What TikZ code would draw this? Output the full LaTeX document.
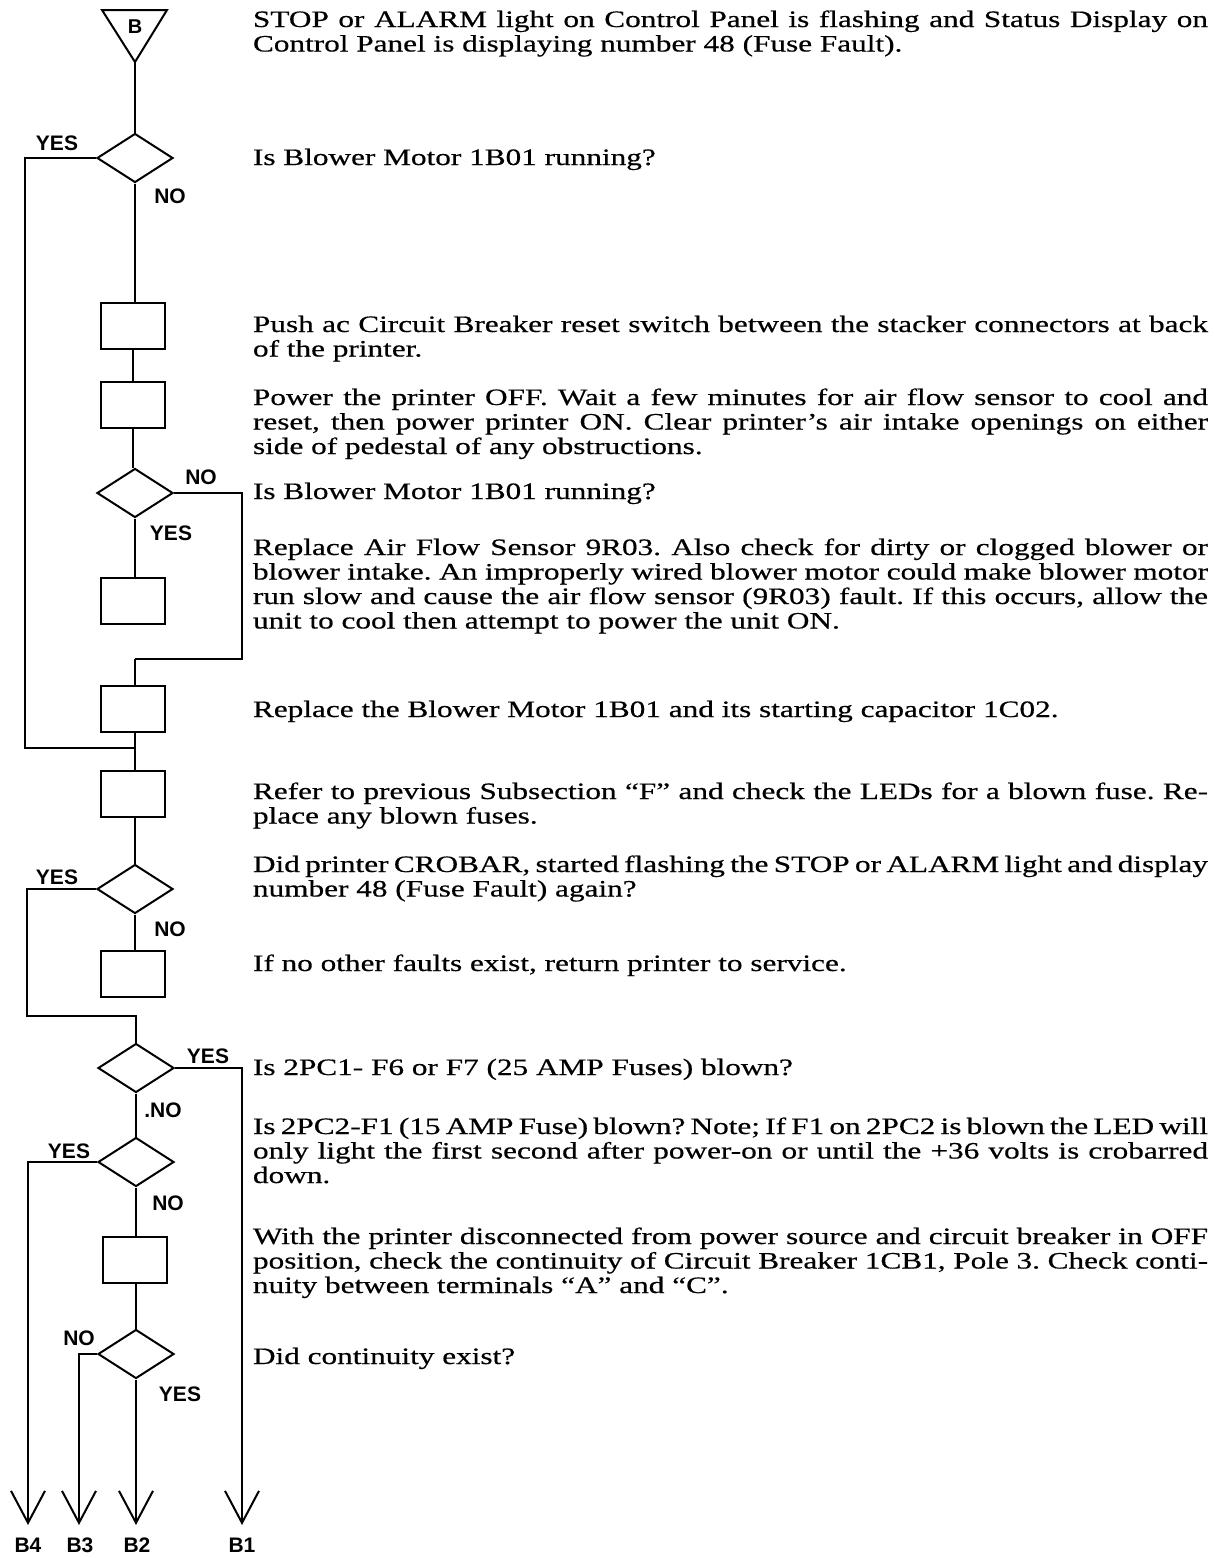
\documentclass[tikz,border=0pt]{standalone}
\usepackage{fontspec}
\setmainfont{Liberation Serif}[FakeStretch=1.33,FakeBold=0.5]
\newfontfamily\labfont{Liberation Sans}
\usetikzlibrary{arrows.meta,shapes.geometric}
\frenchspacing
\newcommand{\fullline}[1]{\makebox[955pt][s]{#1}\\}
\newcommand{\bodyfont}{\fontsize{23.5}{24.5}\selectfont\frenchspacing}
\begin{document}
\begin{tikzpicture}[x=1pt,y=-1pt,line width=2pt,
  boxstep/.style={draw,rectangle,minimum width=64pt,minimum height=46pt,inner sep=0pt},
  decide/.style={draw,diamond,minimum width=76pt,minimum height=49pt,inner sep=0pt},
  lab/.style={font=\labfont\bfseries\fontsize{21}{21}\selectfont,inner sep=0pt},
  endlab/.style={font=\labfont\bfseries\fontsize{21}{21}\selectfont,inner sep=0pt},
  txt/.style={anchor=base west,inner sep=0pt},
  exitarrow/.style={-{Straight Barb[length=32pt,width=34pt,line width=2pt]}}]
\useasboundingbox (0,0) rectangle (1213,1558);
\fill[white] (0,0) rectangle (1213,1558);

% connector B
\coordinate (tl) at (102,10);
\coordinate (tr) at (167,10);
\coordinate (tap) at (135,62);
\draw[line join=miter] (tl) -- (tr) -- (tap) -- cycle;
\node[font=\labfont\bfseries\fontsize{20}{20}\selectfont,inner sep=0pt] (Blab) at (135,27) {B};

% nodes
\node[decide] (d1) at (135,158) {};
\node[boxstep] (b1) at (133,326) {};
\node[boxstep] (b2) at (133,404.5) {};
\node[decide] (d2) at (135,493) {};
\node[boxstep] (b3) at (133,601) {};
\node[boxstep] (b4) at (133,709) {};
\node[boxstep] (b5) at (133,793.5) {};
\node[decide] (d3) at (135,889) {};
\node[boxstep] (b6) at (133,973.5) {};
\node[decide] (d4) at (136,1068) {};
\node[decide] (d5) at (136,1162) {};
\node[boxstep] (b7) at (135,1260) {};
\node[decide] (d6) at (136,1354) {};

% junction coordinates
\coordinate (L1) at (25,748);
\coordinate (j1) at (135,748);
\coordinate (R1) at (242,659);
\coordinate (j2) at (135,659);
\coordinate (L2) at (27,1016);
\coordinate (j3) at (136,1016);
\coordinate (A1) at (242,1525);
\coordinate (A2) at (136,1525);
\coordinate (A3) at (79,1525);
\coordinate (A4) at (28,1525);

% connectors
\draw (tap) -- (d1.north);
\draw (d1.south) -- (b1.north -| d1.south);
\draw (d1.west) -| (L1) -- (j1);
\draw (b1.south) -- (b2.north);
\draw (b2.south) -- (b2.south |- d2.north);
\draw (d2.south) -- (d2.south |- b3.north);
\draw (d2.east) -| (R1) -- (j2);
\draw (j2) -- (j2 |- b4.north);
\draw (b4.south -| j1) -- (b5.north -| j1);
\draw (b5.south -| d3.north) -- (d3.north);
\draw (d3.south) -- (d3.south |- b6.north);
\draw (d3.west) -| (L2) -- (j3) -- (d4.north);
\draw[exitarrow] (d4.east) -| (A1);
\draw (d4.south) -- (d5.north);
\draw[exitarrow] (d5.west) -| (A4);
\draw (d5.south) -- (d5.south |- b7.north);
\draw (d5.south |- b7.south) -- (d6.north);
\draw[exitarrow] (d6.west) -| (A3);
\draw[exitarrow] (d6.south) -- (A2);

% branch labels
\node[lab] (y1) at (57,143) {YES};
\node[lab] (n1) at (170,196) {NO};
\node[lab] (n2) at (201,477) {NO};
\node[lab] (y2) at (171,533) {YES};
\node[lab] (y3) at (57,877) {YES};
\node[lab] (n3) at (170,929) {NO};
\node[lab] (y4) at (208,1056) {YES};
\node[lab] (n4) at (163,1110) {.NO};
\node[lab] (y5) at (69,1151) {YES};
\node[lab] (n5) at (168,1203) {NO};
\node[lab] (n6) at (79,1338) {NO};
\node[lab] (y6) at (180,1394) {YES};

\node[endlab] (e4) at (28,1545) {B4};
\node[endlab] (e3) at (80,1545) {B3};
\node[endlab] (e2) at (137,1545) {B2};
\node[endlab] (e1) at (242,1545) {B1};

% descriptions
\node[txt] (p1) at (252,27) {\parbox[t]{955pt}{\bodyfont
\fullline{STOP or ALARM light on Control Panel is flashing and Status Display on}
Control Panel is displaying number 48 (Fuse Fault).}};
\node[txt] (p2) at (252,165) {\bodyfont Is Blower Motor 1B01 running?};
\node[txt] (p3) at (252,332) {\parbox[t]{955pt}{\bodyfont
\fullline{Push ac Circuit Breaker reset switch between the stacker connectors at back}
of the printer.}};
\node[txt] (p4) at (252,405) {\parbox[t]{955pt}{\bodyfont
\fullline{Power the printer OFF. Wait a few minutes for air flow sensor to cool and}
\fullline{reset, then power printer ON. Clear printer's air intake openings on either}
side of pedestal of any obstructions.}};
\node[txt] (p5) at (252,499) {\bodyfont Is Blower Motor 1B01 running?};
\node[txt] (p6) at (252,555) {\parbox[t]{955pt}{\bodyfont
\fullline{Replace Air Flow Sensor 9R03. Also check for dirty or clogged blower or}
\fullline{blower intake. An improperly wired blower motor could make blower motor}
\fullline{run slow and cause the air flow sensor (9R03) fault. If this occurs, allow the}
unit to cool then attempt to power the unit ON.}};
\node[txt] (p7) at (252,717) {\bodyfont Replace the Blower Motor 1B01 and its starting capacitor 1C02.};
\node[txt] (p8) at (252,799) {\parbox[t]{955pt}{\bodyfont
\fullline{Refer to previous Subsection “F” and check the LEDs for a blown fuse. Re-}
place any blown fuses.}};
\node[txt] (p9) at (252,872) {\parbox[t]{955pt}{\bodyfont
\fullline{Did printer CROBAR, started flashing the STOP or ALARM light and display}
number 48 (Fuse Fault) again?}};
\node[txt] (p10) at (252,971) {\bodyfont If no other faults exist, return printer to service.};
\node[txt] (p11) at (252,1075) {\bodyfont Is 2PC1- F6 or F7 (25 AMP Fuses) blown?};
\node[txt] (p12) at (252,1134) {\parbox[t]{955pt}{\bodyfont
\fullline{Is 2PC2-F1 (15 AMP Fuse) blown? Note; If F1 on 2PC2 is blown the LED will}
\fullline{only light the first second after power-on or until the +36 volts is crobarred}
down.}};
\node[txt] (p13) at (252,1244) {\parbox[t]{955pt}{\bodyfont
\fullline{With the printer disconnected from power source and circuit breaker in OFF}
\fullline{position, check the continuity of Circuit Breaker 1CB1, Pole 3. Check conti-}
nuity between terminals “A” and “C”.}};
\node[txt] (p14) at (252,1364) {\bodyfont Did continuity exist?};
\end{tikzpicture}
\end{document}
